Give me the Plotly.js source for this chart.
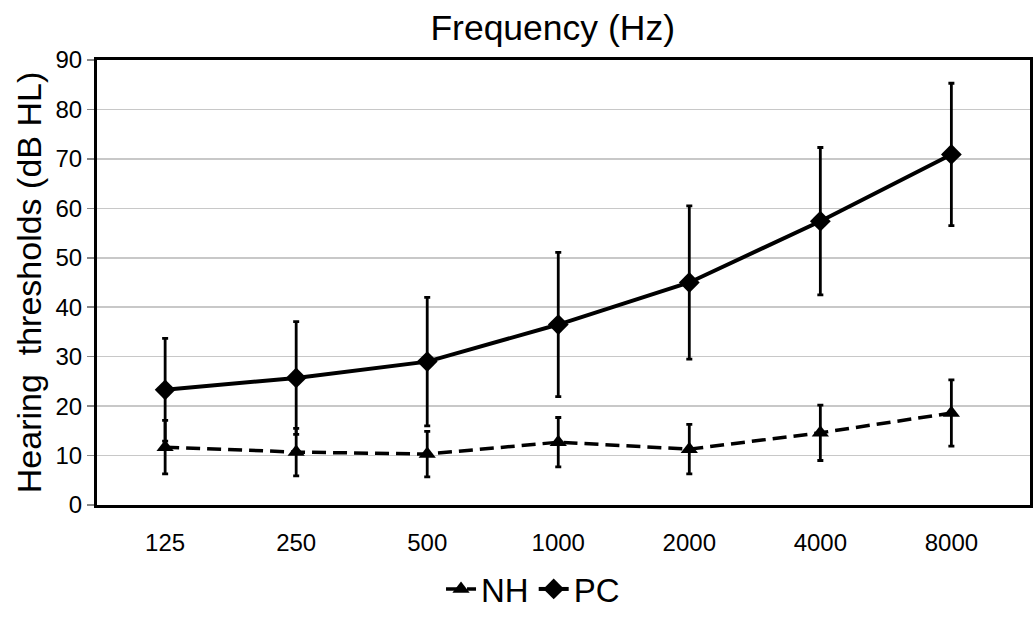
<!DOCTYPE html>
<html><head><meta charset="utf-8">
<script src="https://cdn.plot.ly/plotly-3.0.1.min.js"></script>
<style>html,body{margin:0;padding:0;background:#fff}#chart{width:1035px;height:617px}</style>
</head><body><div id="chart"></div>
<script>
const frequencies = ["125","250","500","1000","2000","4000","8000"];
const nhMean = [11.7, 10.7, 10.3, 12.7, 11.3, 14.6, 18.6];
const nhSD   = [5.4, 4.8, 4.6, 5.0, 5.0, 5.6, 6.7];
const pcMean = [23.3, 25.7, 29.0, 36.5, 45.0, 57.4, 70.9];
const pcSD   = [10.4, 11.4, 13.0, 14.6, 15.5, 14.9, 14.4];

const font = "Liberation Sans, Arial, sans-serif";
const traces = [
  {x: frequencies, y: nhMean, name: "NH", type: "scatter", mode: "lines+markers",
   line: {color: "#000", width: 3.5, dash: "14px,7px"},
   marker: {symbol: "triangle-up", size: 15, color: "#000"},
   error_y: {type: "data", array: nhSD, visible: true, color: "#000", thickness: 2.8, width: 3}},
  {x: frequencies, y: pcMean, name: "PC", type: "scatter", mode: "lines+markers",
   line: {color: "#000", width: 4},
   marker: {symbol: "diamond", size: 16, color: "#000"},
   error_y: {type: "data", array: pcSD, visible: true, color: "#000", thickness: 2.8, width: 3}}
];
const layout = {
  width: 1035, height: 617,
  margin: {l: 97, r: 5, t: 60, b: 112},
  paper_bgcolor: "#fff", plot_bgcolor: "#fff",
  font: {family: font, color: "#000"},
  title: {text: "Frequency (Hz)", font: {size: 35.5, family: font, color: "#000"},
          x: 0.534, xref: "container", y: 0.955, yref: "container", xanchor: "center", yanchor: "middle"},
  xaxis: {type: "category", range: [-0.52, 6.6], showgrid: false, zeroline: false,
          showline: true, linecolor: "#000", linewidth: 3, mirror: true,
          ticks: "", ticklabelstandoff: 14, tickfont: {size: 24, family: font, color: "#000"}},
  yaxis: {range: [0, 90], dtick: 10, showgrid: true, gridcolor: "#c8c8c8", gridwidth: 1.5,
          zeroline: false, showline: true, linecolor: "#000", linewidth: 3, mirror: true,
          ticks: "outside", ticklen: 7, tickcolor: "#888", tickwidth: 1.5,
          tickfont: {size: 24, family: font, color: "#000"},
          title: {text: "Hearing\u00a0 thresholds (dB HL)", font: {size: 34, family: font, color: "#000"}, standoff: 4}},
  showlegend: true,
  legend: {orientation: "h", x: 0.515, xanchor: "center", xref: "container", y: -0.018, yref: "container", yanchor: "bottom",
           font: {size: 33, family: font, color: "#000"}, itemwidth: 30, tracegroupgap: 0}
};
Plotly.newPlot("chart", traces, layout, {displayModeBar: false, staticPlot: true});
</script></body></html>
